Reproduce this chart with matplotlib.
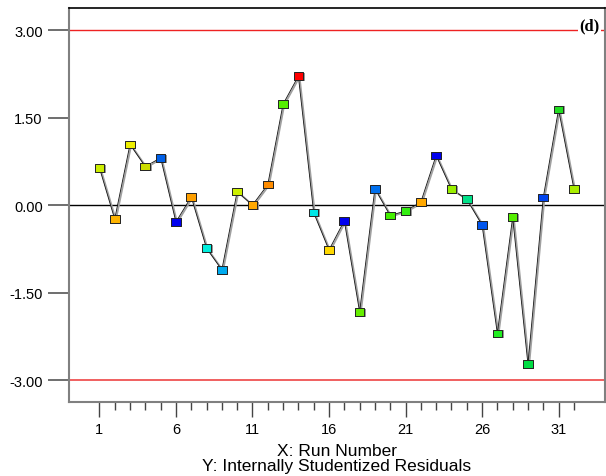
import numpy as np
import matplotlib
matplotlib.use("Agg")
import matplotlib.pyplot as plt
import matplotlib.transforms as mtransforms
from matplotlib.path import Path

plt.rcParams['font.family'] = ['Liberation Sans', 'DejaVu Sans']

# residuals per run
runs = list(range(1, 33))
residuals = [0.64, -0.24, 1.04, 0.66, 0.81, -0.29, 0.14, -0.74, -1.11, 0.23,
             0.00, 0.35, 1.73, 2.21, -0.13, -0.77, -0.27, -1.83, 0.28, -0.18,
             -0.10, 0.05, 0.85, 0.27, 0.10, -0.34, -2.20, -0.21, -2.73, 0.13,
             1.64, 0.28]
point_colors = ['#ccee00', '#ffb400', '#eeee00', '#ccdd00', '#0060e8', '#0000ee',
                '#ffa000', '#00eedd', '#00aaee', '#ccf000', '#ffa800', '#ff8c00',
                '#55ee00', '#ff0000', '#00e8e8', '#ffd800', '#0000ee', '#66ee00',
                '#0070ee', '#44ee00', '#33ee11', '#ffa800', '#0000ee', '#99ee00',
                '#00e088', '#0055ee', '#22ee22', '#55ee00', '#00dd44', '#0044ee',
                '#22dd22', '#aaee00']
limit = 3.0
y_ticks = [-3.0, -1.5, 0.0, 1.5, 3.0]
x_ticks = [1, 6, 11, 16, 21, 26, 31]

fig = plt.figure(figsize=(6.06, 4.77), dpi=100)
ax = fig.add_axes([0.114, 0.155, 0.884, 0.826])

ax.axhline(0, color='black', lw=1.0, zorder=1)
ax.axhline(limit, color='#ee2222', lw=1.0, zorder=1)
ax.axhline(-limit, color='#ee4444', lw=1.2, zorder=1)

# connecting line: grey shadow a pixel to the right, thin black on top
shadow = ax.transData + mtransforms.Affine2D().translate(1.2, -0.8)
ax.plot(runs, residuals, color='#a0a0a0', lw=1.3, zorder=2, transform=shadow)
ax.plot(runs, residuals, color='#111111', lw=0.6, zorder=3)

rect = Path([(-1, -0.8), (1, -0.8), (1, 0.8), (-1, 0.8), (-1, -0.8)])
ax.scatter(runs, residuals, marker=rect, s=50, c='#9a9a9a', lw=0,
           zorder=4, transform=shadow)
ax.scatter(runs, residuals, marker=rect, s=48, c=point_colors,
           edgecolors='#222222', linewidths=0.7, zorder=5)

ax.set_xlim(-0.98, 34.02)
ax.set_ylim(-3.377, 3.377)
ax.set_xticks(x_ticks)
ax.set_xticks(runs, minor=True)
ax.set_yticks(y_ticks)
ax.set_yticklabels([f'{v:.2f}' for v in y_ticks])
ax.tick_params(axis='x', which='major', length=11, width=1, color='#444444',
               labelsize=10.5, pad=3)
ax.tick_params(axis='x', which='minor', length=6, width=1, color='#444444')
ax.tick_params(axis='y', length=15, width=1.2, color='#555555',
               labelsize=10.5, pad=4)

for side in ['left', 'bottom', 'right']:
    ax.spines[side].set_color('#808080')
    ax.spines[side].set_linewidth(1.5)
ax.spines['top'].set_color('black')
ax.spines['top'].set_linewidth(1.2)

ax.text(0.972, 0.955, '(d)', transform=ax.transAxes, ha='center', va='center',
        fontsize=12, fontweight='bold', family=['Liberation Serif', 'DejaVu Serif'],
        bbox=dict(facecolor='white', edgecolor='none', pad=1), zorder=6)

fig.text(0.556, 0.053, 'X: Run Number', ha='center', va='center', fontsize=12.5)
fig.text(0.556, 0.021, 'Y: Internally Studentized Residuals', ha='center',
         va='center', fontsize=12.5)

fig.savefig('out.png', dpi=100)
